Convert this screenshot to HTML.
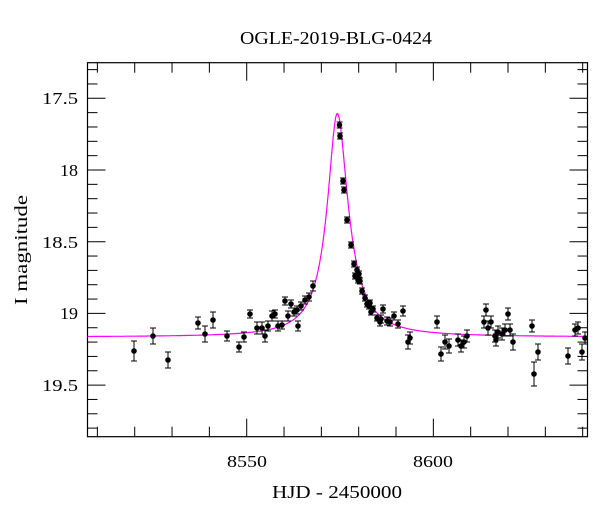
<!DOCTYPE html>
<html><head><style>
body{margin:0;background:#fff}
svg text{font-family:"Liberation Serif",serif;fill:#000}
</style></head><body>
<svg id="s" width="600" height="512" xmlns="http://www.w3.org/2000/svg">
<text x="240" y="44" font-size="18" textLength="192" lengthAdjust="spacingAndGlyphs">OGLE-2019-BLG-0424</text>
<text x="272" y="498" font-size="18" textLength="130" lengthAdjust="spacingAndGlyphs">HJD - 2450000</text>
<text transform="translate(27,305) rotate(-90)" font-size="18" textLength="110" lengthAdjust="spacingAndGlyphs">I magnitude</text>
<g font-size="17">
<text x="42" y="104" textLength="36" lengthAdjust="spacingAndGlyphs">17.5</text><text x="60" y="176" textLength="18" lengthAdjust="spacingAndGlyphs">18</text><text x="42" y="248" textLength="36" lengthAdjust="spacingAndGlyphs">18.5</text>
<text x="60" y="319" textLength="18" lengthAdjust="spacingAndGlyphs">19</text><text x="42" y="391" textLength="36" lengthAdjust="spacingAndGlyphs">19.5</text></g>
<g font-size="17"><text x="227" y="467" textLength="40" lengthAdjust="spacingAndGlyphs">8550</text><text x="413" y="467" textLength="40" lengthAdjust="spacingAndGlyphs">8600</text></g>
<rect x="87.5" y="62.7" width="500" height="374" fill="none" stroke="#000" stroke-width="1.2"/>
<g id="t" stroke="#000" stroke-width="1"></g>
<path id="c" fill="none" stroke="#ff00ff" stroke-width="1.2"/>
<g id="d"></g>
</svg>
<script>
var L=87.5,R=587.5,T=62.7,B=436.7,t=document.getElementById('t'),h='';
function X(d){return 246.7+(d-8550)*3.733}
function Y(m){return 98.3+(m-17.5)*143.4}
for(var d=8510;d<=8640;d+=10){var x=X(d),l=(d%50==0)?18:10;h+=`<line x1="${x}" y1="${B}" x2="${x}" y2="${B-l}"/><line x1="${x}" y1="${T}" x2="${x}" y2="${T+l}"/>`}
for(var m=17.3;m<=19.85;m+=0.1){var y=Y(m),l=(Math.abs(m*2-Math.round(m*2))<0.01)?18:10;h+=`<line x1="${L}" y1="${y}" x2="${L+l}" y2="${y}"/><line x1="${R}" y1="${y}" x2="${R-l}" y2="${y}"/>`}
t.innerHTML=h;
var p='';for(var d=8507.4;d<=8641.3;d+=0.1){var dt=d-8574.27,w=dt<0?2.3:2.5,r=1+3.2/(1+(dt/w)*(dt/w));var mm=19.165-2.5*Math.log10(r);p+=(p?'L':'M')+X(d).toFixed(1)+','+Y(mm).toFixed(1)}
document.getElementById('c').setAttribute('d',p);
var pts=[[134,351,10],[153,336,8],[168,360,8],[198,323,6],[205,334,8],[213,320,8],[227,336,5],[239,347,5],[244,337,5],[250,314,4],[257,328,6],[262,328,6],[265,336,6],[268,326,5],[272,316,5],[275,314,4],[278,326,5],[282,325,4],[285,301,4],[288,316,5],[291,304,4],[294,312,4],[297,310,4],[298,326,5],[301,306,4],[305,300,4],[309,297,4],[313,286,5],[339.5,125,3],[340,136,3],[343,181,3],[344,190,3],[347,220,3],[351,245,3],[354,264,3],[355,276,3],[357,270,3],[358,280,3],[359,274,3],[360,281,3],[362,291,3],[365,298,3],[367,304,3],[369,306,3],[370,303,3],[371,312,3],[373,309,3],[377,318,3],[380,322,4],[381,319,4],[383,309,4],[387,321,4],[390,322,4],[394,316,4],[398,324,4],[403,311,5],[408,342,7],[410,338,6],[437,322,6],[441,354,7],[445,342,7],[449,346,7],[458,340,6],[461,346,6],[464,342,6],[467,336,6],[484,322,6],[486,310,6],[488,328,7],[491,322,6],[495,336,6],[496,340,6],[498,332,6],[502,334,6],[505,330,6],[508,314,6],[510,330,6],[513,342,8],[532,326,6],[534,374,12],[538,352,8],[568,356,8],[575,330,6],[578,328,6],[582,352,8],[585,338,6]];
var g='';pts.forEach(function(q){var x=q[0],y=q[1],e=q[2];g+=`<line x1="${x}" y1="${y-e}" x2="${x}" y2="${y+e}" stroke="#000"/><line x1="${x-3}" y1="${y-e}" x2="${x+3}" y2="${y-e}" stroke="#000"/><line x1="${x-3}" y1="${y+e}" x2="${x+3}" y2="${y+e}" stroke="#000"/><circle cx="${x}" cy="${y}" r="2.8"/>`});
document.getElementById('d').innerHTML=g;
</script>
</body></html>
